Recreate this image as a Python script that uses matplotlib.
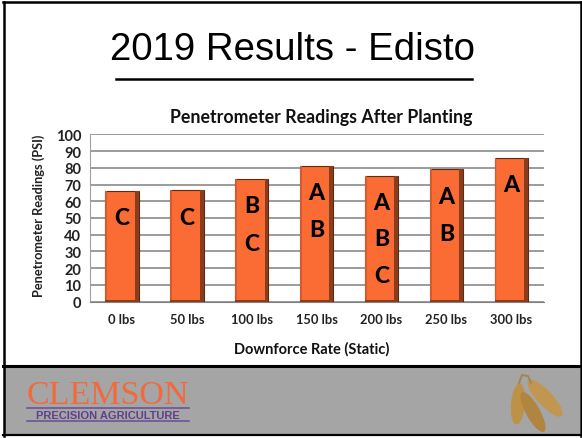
#!/bin/python3

# slide with bar chart of penetrometer readings, plus frame and footer logo
import matplotlib
matplotlib.use("Agg")
import matplotlib.pyplot as plt
from matplotlib.patches import Ellipse, Rectangle

W, H = 582, 439

rates = ["0 lbs", "50 lbs", "100 lbs", "150 lbs", "200 lbs", "250 lbs", "300 lbs"]
readings = [66, 66.7, 73.3, 81, 75, 79.3, 86]
letters = [["C"], ["C"], ["B", "C"], ["A", "B"], ["A", "B", "C"], ["A", "B"], ["A"]]
letter_y = [[50], [50.5], [57.5, 35], [65, 43], [59.5, 37.5, 15.5], [63, 41], [70]]
yticks = list(range(0, 101, 10))

ORANGE = "#fa6c34"
DARK = "#8a3d1c"
LIGHT = "#d25c2b"
BAR_W = 0.515
CHART_FONT = "Lato"

fig = plt.figure(figsize=(W / 100, H / 100), dpi=100, facecolor="white")

# slide layer, in pixels
bg = fig.add_axes([0, 0, 1, 1])
bg.set_xlim(0, W)
bg.set_ylim(H, 0)
bg.axis("off")
bg.add_patch(Rectangle((4, 367), 576, 69, fc="#a5a5a5", ec="none"))
bg.plot([4, 4], [3, 437], color="black", lw=1.8)
bg.plot([580.5, 580.5], [3, 437], color="black", lw=1.8)
bg.plot([3, 581], [3, 3], color="black", lw=1.8)
bg.plot([3, 581], [367, 367], color="black", lw=2.2)
bg.plot([3, 581], [436.5, 436.5], color="black", lw=1.6)
bg.plot([116, 472], [79.5, 79.5], color="black", lw=1.8)
bg.text(292, 50, "2019 Results - Edisto", ha="center", va="center",
        fontsize=27.6, family="Liberation Sans", color="black")

# logo
bg.text(108, 395.5, "CLEMSON", ha="center", va="center", fontsize=24.5,
        family="Liberation Serif", color="#f26a3c")
bg.plot([27, 189], [409.5, 409.5], color="#6a4a96", lw=1.1)
bg.plot([27, 189], [422.5, 422.5], color="#6a4a96", lw=1.1)
bg.text(108, 416, "PRECISION AGRICULTURE", ha="center", va="center", fontsize=8,
        family="Liberation Sans", weight="bold", color="#5f3f8f")

# soybean pods
bg.plot([519, 522, 528, 531], [384, 376, 377, 384], color="#a08650", lw=1.4)
bg.add_patch(Ellipse((518, 405), 14, 41, angle=5, fc="#bd9148", ec="none"))
bg.add_patch(Ellipse((533, 413), 14, 45, angle=-29, fc="#b08540", ec="none"))
bg.add_patch(Ellipse((545, 399), 15, 49, angle=-43, fc="#c09650", ec="none"))

ax = fig.add_axes([89.5 / W, 1 - 302.7 / H, 454.2 / W, 167.4 / H])
ax.patch.set_alpha(0)
x = range(len(rates))
ax.bar(x, readings, BAR_W, color=ORANGE, edgecolor="#5a2c16", lw=0.8, zorder=3)

# bevels on the bars
bevel = 0.06
ax.bar([i + BAR_W / 2 - bevel / 2 for i in x], readings, bevel, color=DARK, zorder=4)
ax.bar([i - BAR_W / 2 + bevel / 4 for i in x], readings, bevel / 2, color=LIGHT, zorder=4)
ax.bar(x, [1.2] * len(rates), BAR_W, color=DARK, zorder=4)

for i, (lab, ys) in enumerate(zip(letters, letter_y)):
    for s, yy in zip(lab, ys):
        ax.text(i, yy, s, ha="center", va="center", fontsize=16.5, weight=900,
                family=CHART_FONT, color="black", zorder=5)

ax.set_xlim(-0.5, len(rates) - 0.5)
ax.set_ylim(0, 100)
ax.set_yticks(yticks)
ax.set_xticks(list(x))
ax.set_xticklabels(rates, fontsize=9.3, weight="bold", family=CHART_FONT, color="#222222")
for t in ax.get_yticklabels():
    t.set_fontsize(10.5)
    t.set_fontweight("bold")
    t.set_family(CHART_FONT)
    t.set_color("#222222")
ax.tick_params(axis="x", length=0, pad=8)
ax.tick_params(axis="y", length=0, pad=6)
ax.grid(axis="y", color="#808080", lw=1.1, zorder=1)
ax.set_axisbelow(True)
for side in ["top", "right"]:
    ax.spines[side].set_visible(False)
ax.spines["left"].set_color("#a0a0a0")
ax.spines["bottom"].set_color("#808080")

fig.text(321 / W, 1 - 117 / H, "Penetrometer Readings After Planting", ha="center", va="center",
         fontsize=12.8, weight="bold", family=CHART_FONT, color="#111111")
fig.text(312 / W, 1 - 349 / H, "Downforce Rate (Static)", ha="center", va="center",
         fontsize=10.5, weight="bold", family=CHART_FONT, color="#111111")
fig.text(39 / W, 1 - 216 / H, "Penetrometer Readings (PSI)", ha="center", va="center", rotation=90,
         fontsize=9.2, weight="bold", family=CHART_FONT, color="#222222")

fig.savefig("out.png", dpi=100)
